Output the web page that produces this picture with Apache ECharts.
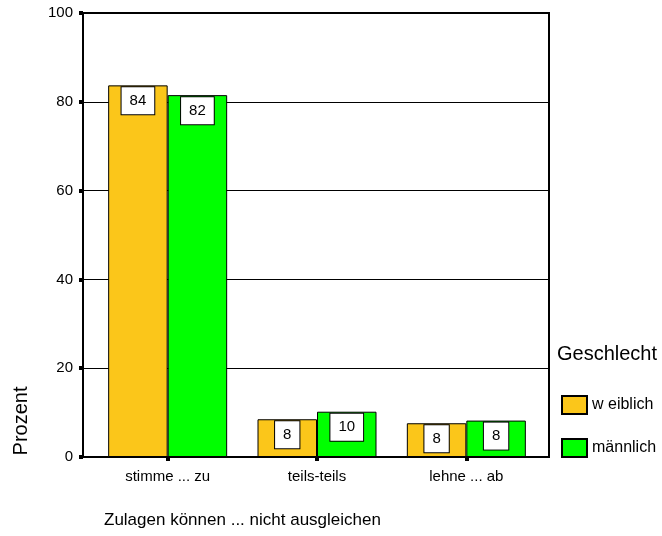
<!DOCTYPE html>
<html>
<head>
<meta charset="utf-8">
<script src="https://cdn.jsdelivr.net/npm/echarts@6/dist/echarts.min.js"></script>
<style>
  html, body { margin: 0; padding: 0; background: #fff; }
  #chart { width: 662px; height: 536px; }
</style>
</head>
<body>
<div id="chart"></div>
<script>
// Daten
var categories = ['stimme ... zu', 'teils-teils', 'lehne ... ab']
var seriesNames = ['w eiblich', 'männlich']
var weiblich = [83.7, 8.5, 7.6]
var maennlich = [81.5, 10.2, 8.2]
var weiblichLabels = [84, 8, 8]
var maennlichLabels = [82, 10, 8]
var yTicks = [0, 20, 40, 60, 80, 100]

var font = 'Liberation Sans, Arial, sans-serif'
var orange = '#FBC61A'
var green = '#00FF00'

const chart = echarts.init(document.getElementById('chart'))

function barLabel(labels) {
  return {
    show: true,
    position: 'insideTop',
    distance: 2,
    formatter: function(p) {
      return String(labels[p.dataIndex])
    },
    backgroundColor: '#fff',
    borderColor: '#000',
    borderWidth: 1,
    padding: [6, 8],
    fontSize: 15,
    lineHeight: 15,
    color: '#000',
    fontFamily: font
  }
}

chart.setOption({
  animation: false,
  textStyle: { fontFamily: font },
  title: {
    text: 'Geschlecht',
    left: 557,
    top: 344,
    padding: 0,
    textStyle: { fontSize: 20, fontWeight: 'normal', color: '#000', fontFamily: font }
  },
  legend: {
    data: seriesNames,
    orient: 'vertical',
    left: 561,
    top: 395,
    padding: 0,
    itemWidth: 25,
    itemHeight: 18,
    itemGap: 23,
    icon: 'rect',
    textStyle: { fontSize: 16, color: '#000', fontFamily: font }
  },
  graphic: [
    {
      type: 'text',
      x: 21,
      y: 421,
      rotation: Math.PI / 2,
      style: {
        text: 'Prozent',
        fontSize: 20,
        fontFamily: font,
        fill: '#000',
        align: 'center',
        verticalAlign: 'middle'
      }
    },
    {
      type: 'text',
      x: 104,
      y: 520,
      style: {
        text: 'Zulagen können ... nicht ausgleichen',
        fontSize: 17,
        fontFamily: font,
        fill: '#000',
        align: 'left',
        verticalAlign: 'middle'
      }
    }
  ],
  grid: [
    // Rahmen mit y-Achse
    { left: 83, top: 13, width: 466, height: 444, show: true, borderColor: '#000', borderWidth: 2, backgroundColor: 'transparent' },
    // Balken
    { left: 93, top: 13, width: 448, height: 444 }
  ],
  xAxis: [
    {
      gridIndex: 0,
      type: 'value',
      min: 0,
      max: 1,
      axisLine: { show: true, lineStyle: { color: '#000', width: 2 } },
      axisTick: { show: false },
      axisLabel: { show: false },
      splitLine: { show: false }
    },
    {
      gridIndex: 1,
      type: 'category',
      data: categories,
      axisLine: { show: false },
      axisTick: { show: true, alignWithLabel: true, length: 4, lineStyle: { color: '#000', width: 4 } },
      axisLabel: { fontSize: 15, color: '#000', margin: 12, fontFamily: font },
      splitLine: { show: false }
    }
  ],
  yAxis: [
    {
      gridIndex: 0,
      type: 'value',
      min: 0,
      max: 100,
      interval: 20,
      axisLine: { show: true, lineStyle: { color: '#000', width: 2 } },
      axisTick: { show: true, inside: false, length: 4, lineStyle: { color: '#000', width: 4 } },
      axisLabel: {
        fontSize: 15,
        color: '#000',
        margin: 10,
        fontFamily: font,
        formatter: function(v) { return yTicks.indexOf(v) >= 0 ? String(v) : '' }
      },
      splitLine: { show: true, lineStyle: { color: '#000', width: 1 } }
    },
    {
      gridIndex: 1,
      type: 'value',
      min: 0,
      max: 100,
      show: false
    }
  ],
  series: [
    {
      name: seriesNames[0],
      type: 'bar',
      xAxisIndex: 1,
      yAxisIndex: 1,
      barWidth: 59.5,
      barGap: 0,
      data: weiblich,
      itemStyle: { color: orange, borderColor: '#000', borderWidth: 1 },
      label: barLabel(weiblichLabels)
    },
    {
      name: seriesNames[1],
      type: 'bar',
      xAxisIndex: 1,
      yAxisIndex: 1,
      barWidth: 59.5,
      barGap: 0,
      data: maennlich,
      itemStyle: { color: green, borderColor: '#000', borderWidth: 1 },
      label: barLabel(maennlichLabels)
    }
  ]
})
</script>
</body>
</html>
